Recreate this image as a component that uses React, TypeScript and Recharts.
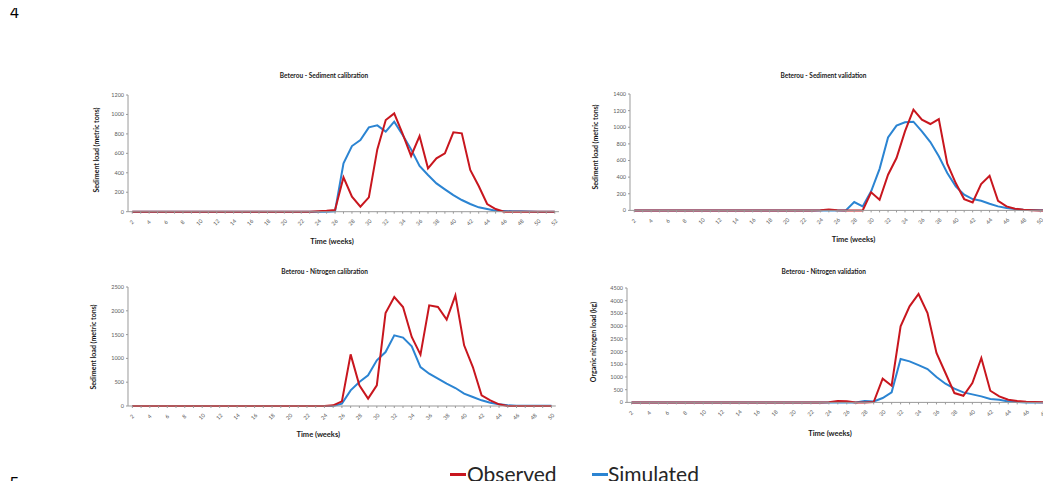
import * as React from "react"
import { LineChart, Line, XAxis, YAxis } from "recharts"

// categories (weeks)
const weeksTo52 = ["2","3","4","5","6","7","8","9","10","11","12","13","14","15","16","17","18","19","20","21","22","23","24","25","26","27","28","29","30","31","32","33","34","35","36","37","38","39","40","41","42","43","44","45","46","47","48","49","50","51","52"]
const weeksTo50 = ["2","3","4","5","6","7","8","9","10","11","12","13","14","15","16","17","18","19","20","21","22","23","24","25","26","27","28","29","30","31","32","33","34","35","36","37","38","39","40","41","42","43","44","45","46","47","48","49","50"]

// Sediment calibration (metric tons)
const sedCalObserved = [0,0,0,0,0,0,0,0,0,0,0,0,0,0,0,0,0,0,0,0,0,0, 5,10,18,353,154,51,147,641,943,1011,799,573,778,446,549,600,816,806,429,264,79,27,0, 0,0,0,0,0,0]
const sedCalSimulated = [0,0,0,0,0,0,0,0,0,0,0,0,0,0,0,0,0,0,0,0,0,0,0,0, 5,497,675,737,867,888,823,926,789,641,470,377,291,230,171,120,79,45,27,10,7,5,4,3,0,0,0]

// Sediment validation (metric tons)
const sedValObserved = [0,0,0,0,0,0,0,0,0,0,0,0,0,0,0,0,0,0,0,0,0,0, 3,12,3,0,0,0,217,128,429,630,950,1211,1091,1039,1099,562,329,136,96,317,417,116,48,20,8,3,0,0,0]
const sedValSimulated = [0,0,0,0,0,0,0,0,0,0,0,0,0,0,0,0,0,0,0,0,0,0,0,0,0, 0,100,48,229,500,878,1019,1059,1067,951,822,650,449,289,189,136,116,80,48,28,16,8,4,2,1,0]

// Nitrogen calibration
const nitCalObserved = [0,0,0,0,0,0,0,0,0,0,0,0,0,0,0,0,0,0,0,0,0,0,0, 14,98,1085,434,154,434,1954,2290,2080,1450,1078,2115,2080,1814,2325,1275,819,224,119,35,0, 0,0,0,0,0]
const nitCalSimulated = [0,0,0,0,0,0,0,0,0,0,0,0,0,0,0,0,0,0,0,0,0,0,0,0, 49,329,504,644,959,1134,1485,1436,1254,819,679,574,469,378,259,189,119,70,35,14,7,7,7,7,7]

// Nitrogen validation (kg)
const nitValObserved = [0,0,0,0,0,0,0,0,0,0,0,0,0,0,0,0,0,0,0,0,0,0, 10,50,45,0,0,13,932,656,2991,3779,4264,3516,1942,1155,367,262,761,1745,459,236,105,52,26,13,0, 0,0,0,0]
const nitValSimulated = [0,0,0,0,0,0,0,0,0,0,0,0,0,0,0,0,0,0,0,0,0,0,0,0,0, 0,52,39,171,394,1706,1614,1469,1312,997,735,538,394,315,236,131,105,39,13,0, 0,0,0,0,0,0]

const sedCalTicks = [0, 200, 400, 600, 800, 1000, 1200]
const sedValTicks = [0, 200, 400, 600, 800, 1000, 1200, 1400]
const nitCalTicks = [0, 500, 1000, 1500, 2000, 2500]
const nitValTicks = [0, 500, 1000, 1500, 2000, 2500, 3000, 3500, 4000, 4500]

const RED = "#C8161E"
const BLUE = "#2B84D2"
const AXIS = "#9A9A9A"
const FONT = "Lato, 'Open Sans', sans-serif"

function buildRows(weeks: string[], observed: number[], simulated: number[]) {
  return weeks.map((w, i) => ({ week: w, observed: observed[i], simulated: simulated[i] }))
}

function WeekTick(props: any) {
  const { x, y, payload, index } = props
  if (index % 2 !== 0) return null
  return (
    <g transform={`translate(${x},${y + 7}) rotate(-45)`}>
      <text x={0} y={0} textAnchor="middle" dominantBaseline="middle" fontSize={5.5} fill="#595959" fontFamily={FONT}>
        {payload.value}
      </text>
    </g>
  )
}

interface PanelProps {
  rows: { week: string; observed: number; simulated: number }[]
  left: number
  top: number
  width: number
  height: number
  yTicks: number[]
  title: string
  titlePos: [number, number]
  yLabel: string
  yLabelPos: [number, number]
  xLabelPos: [number, number]
}

function Panel({ rows, left, top, width, height, yTicks, title, titlePos, yLabel, yLabelPos, xLabelPos }: PanelProps) {
  const yw = 30
  const xh = 30
  const mt = 4
  const half = width / rows.length / 2
  return (
    <>
      <div style={{ position: "absolute", left: left - yw, top: top - mt }}>
        <LineChart
          width={yw + width + 2}
          height={mt + height + xh}
          data={rows}
          margin={{ top: mt, right: 2, left: 0, bottom: 0 }}
        >
          <XAxis
            dataKey="week"
            interval={0}
            height={xh}
            tickSize={2}
            tickMargin={2}
            padding={{ left: half, right: half }}
            stroke={AXIS}
            tick={<WeekTick />}
          />
          <YAxis
            width={yw}
            domain={[0, yTicks[yTicks.length - 1]]}
            ticks={yTicks}
            interval={0}
            tickSize={2}
            tickMargin={2}
            stroke={AXIS}
            tick={{ fontSize: 5.5, fill: "#595959", fontFamily: FONT }}
          />
          <Line type="linear" dataKey="simulated" stroke={BLUE} strokeWidth={2} dot={false} isAnimationActive={false} />
          <Line type="linear" dataKey="observed" stroke={RED} strokeWidth={2} dot={false} isAnimationActive={false} />
        </LineChart>
      </div>
      <div style={{ position: "absolute", left: titlePos[0] - 100, top: titlePos[1] - 5, width: 200, height: 10, lineHeight: "10px", textAlign: "center", fontSize: 6.5, fontWeight: 700, fontFamily: FONT, color: "#1a1a1a" }}>
        {title}
      </div>
      <div style={{ position: "absolute", left: xLabelPos[0] - 50, top: xLabelPos[1] - 6, width: 100, height: 12, lineHeight: "12px", textAlign: "center", fontSize: 7.5, fontWeight: 700, fontFamily: FONT, color: "#1a1a1a" }}>
        Time (weeks)
      </div>
      <div style={{ position: "absolute", left: yLabelPos[0] - 60, top: yLabelPos[1] - 5, width: 120, height: 10, lineHeight: "10px", textAlign: "center", fontSize: 7, fontWeight: 700, fontFamily: FONT, color: "#1a1a1a", transform: "rotate(-90deg)" }}>
        {yLabel}
      </div>
    </>
  )
}

export default function App() {
  return (
    <div style={{ position: "relative", width: 1051, height: 489, margin: -8, overflow: "hidden", background: "#fff" }}>
      <div style={{ position: "absolute", left: 10, top: 5, fontSize: 16, lineHeight: "16px", fontFamily: "'Liberation Sans', Arial, sans-serif", color: "#000" }}>4</div>
      <div style={{ position: "absolute", left: 10, top: 476, fontSize: 16, lineHeight: "16px", fontFamily: "'Liberation Sans', Arial, sans-serif", color: "#000" }}>5</div>

      <Panel
        rows={buildRows(weeksTo52, sedCalObserved, sedCalSimulated)}
        left={128} top={95} width={431} height={116.7}
        yTicks={sedCalTicks}
        title="Beterou - Sediment calibration" titlePos={[324, 76]}
        yLabel="Sediment load (metric tons)" yLabelPos={[96, 150]}
        xLabelPos={[332, 242]}
      />
      <Panel
        rows={buildRows(weeksTo52, sedValObserved, sedValSimulated)}
        left={629.5} top={94.3} width={431.5} height={116.4}
        yTicks={sedValTicks}
        title="Beterou - Sediment validation" titlePos={[823.5, 76]}
        yLabel="Sediment load (metric tons)" yLabelPos={[595, 147]}
        xLabelPos={[853.5, 240]}
      />
      <Panel
        rows={buildRows(weeksTo50, nitCalObserved, nitCalSimulated)}
        left={128} top={286.7} width={427.8} height={119}
        yTicks={nitCalTicks}
        title="Beterou - Nitrogen calibration" titlePos={[324.5, 272.3]}
        yLabel="Sediment load (metric tons)" yLabelPos={[92.5, 346.7]}
        xLabelPos={[318.3, 435]}
      />
      <Panel
        rows={buildRows(weeksTo52, nitValObserved, nitValSimulated)}
        left={627.3} top={288.3} width={457.5} height={114.4}
        yTicks={nitValTicks}
        title="Beterou - Nitrogen validation" titlePos={[823.7, 272.3]}
        yLabel="Organic nitrogen load (kg)" yLabelPos={[592.5, 341.7]}
        xLabelPos={[830, 434.3]}
      />

      <div style={{ position: "absolute", left: 450, top: 472.5, width: 16, height: 3, background: RED }} />
      <div style={{ position: "absolute", left: 467, top: 461, height: 25, lineHeight: "25px", fontSize: 21, fontFamily: FONT, color: "#262626" }}>Observed</div>
      <div style={{ position: "absolute", left: 592, top: 472.5, width: 16, height: 3, background: BLUE }} />
      <div style={{ position: "absolute", left: 608, top: 461, height: 25, lineHeight: "25px", fontSize: 21, fontFamily: FONT, color: "#262626" }}>Simulated</div>
    </div>
  )
}
